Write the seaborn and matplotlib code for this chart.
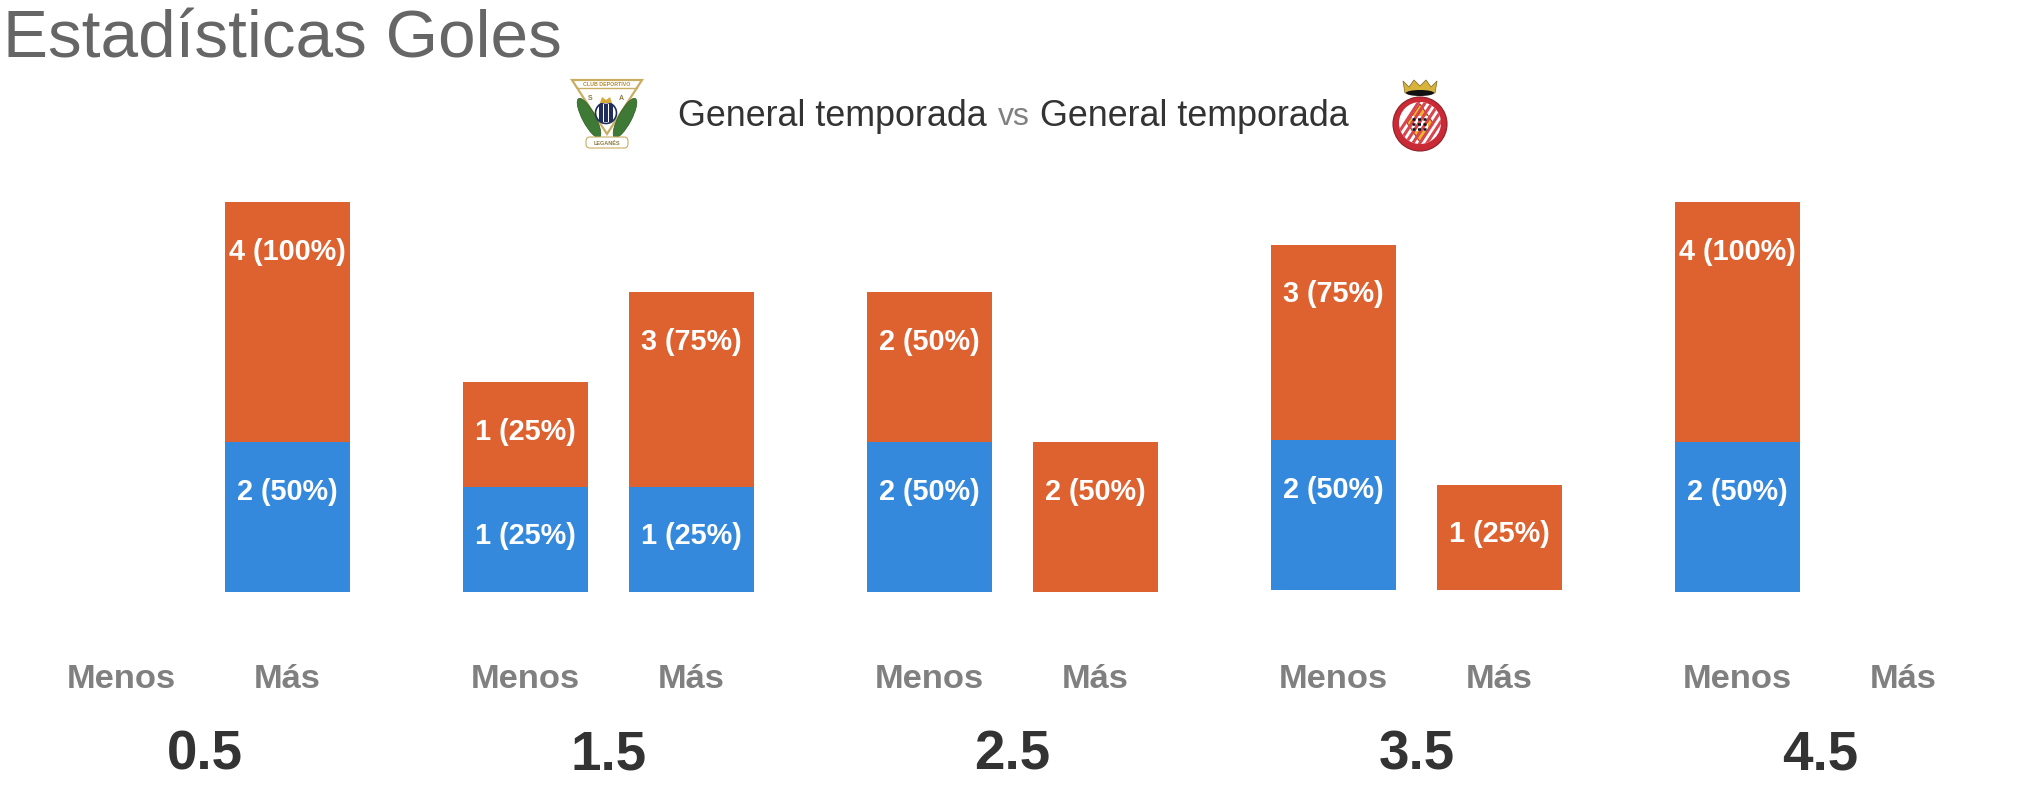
import numpy as np
import pandas as pd
import matplotlib
matplotlib.use("Agg")
import matplotlib.pyplot as plt
import matplotlib.patches as mpatches
import seaborn as sns

# Datos (partidos por linea de goles)
lineas = ["0.5", "1.5", "2.5", "3.5", "4.5"]
lados = ["Menos", "Más"]
local_menos = [0, 1, 2, 2, 2]
local_mas = [2, 1, 0, 0, 0]
visita_menos = [0, 1, 2, 3, 4]
visita_mas = [4, 3, 2, 1, 0]
partidos = 4

titulo = "Estadísticas Goles"
contexto = "General temporada"

AZUL = "#3489DC"
NARANJA = "#DD622F"

# Medidas en pixeles de la figura
ANCHO, ALTO = 2030, 790
PASO_GRUPO = 404
ANCHO_GRUPO = 332
IZQ_GRUPO = 38.5
BASE = 592
ALTO_EJE = 400
PX_POR_GOL = 45
# cada tramo con valor tiene un alto minimo extra, como en el original
EXTRA = 60 / PX_POR_GOL
ELEVACION = [0, 0, 0, 2, 0]
PT = 72 / 100


def alto_tramo(valor):
    return valor + EXTRA if valor > 0 else 0


def dibujar_grupo(ax, linea, azul, naranja, elevar):
    df = pd.DataFrame({"lado": lados, "azul": azul, "naranja": naranja})
    df["alto_azul"] = df["azul"].map(alto_tramo)
    df["alto_total"] = df["alto_azul"] + df["naranja"].map(alto_tramo)
    sns.barplot(data=df, x="lado", y="alto_total", order=lados, color=NARANJA,
                saturation=1, width=0.755, errorbar=None, linewidth=0, ax=ax)
    sns.barplot(data=df, x="lado", y="alto_azul", order=lados, color=AZUL,
                saturation=1, width=0.755, errorbar=None, linewidth=0, ax=ax)
    for i, fila in df.iterrows():
        for valor, tope in ((fila["azul"], fila["alto_azul"]), (fila["naranja"], fila["alto_total"])):
            if valor > 0:
                ax.annotate(f"{valor} ({valor * 100 // partidos}%)", (i, tope),
                            xytext=(0, -49.5 * PT), textcoords="offset points",
                            ha="center", va="center", color="white",
                            fontsize=20.8, fontweight="bold")
    ax.set_xlim(-0.5, 1.5)
    ax.set_ylim(0, ALTO_EJE / PX_POR_GOL)
    ax.set_yticks([])
    ax.set_ylabel("")
    ax.set_xticks([0, 1], lados)
    ax.tick_params(axis="x", length=0, pad=(71.5 + elevar) * PT, labelsize=24.8, labelcolor="#808080")
    for etiqueta in ax.get_xticklabels():
        etiqueta.set_fontweight("bold")
    ax.set_xlabel(linea, fontsize=39.4, fontweight="bold", color="#333333", labelpad=35 * PT)
    sns.despine(ax=ax, left=True, bottom=True)
    ax.patch.set_alpha(0)


def escudo_leganes(ax):
    ax.add_patch(mpatches.Polygon([(572, 80), (642, 80), (607, 134)], closed=True,
                                  fc="white", ec="#C9AE62", lw=1.6))
    ax.plot([577, 637], [88, 88], color="#C9AE62", lw=1)
    ax.text(607, 84.5, "CLUB DEPORTIVO", ha="center", va="center", fontsize=3.8,
            fontweight="bold", color="#B08A30")
    for x, ang in ((589, -28), (625, 28)):
        ax.add_patch(mpatches.Ellipse((x, 118), 13, 44, angle=ang, fc="#3E7A35", ec="#2B5A25", lw=0.5))
    ax.add_patch(mpatches.Circle((606, 113), 10.5, fc="white", ec="#1F2E5A", lw=1.2))
    for x in (601, 606, 611):
        ax.add_patch(mpatches.Rectangle((x - 1.7, 104), 3.4, 18, fc="#1F2E5A", ec="none"))
    ax.add_patch(mpatches.Polygon([(600, 103), (602, 97), (606, 100), (610, 97), (612, 103)],
                                  closed=True, fc="#D7A93A", ec="none"))
    ax.text(590, 99, "S", ha="center", va="center", fontsize=5, fontweight="bold", color="#8A7A40")
    ax.text(621, 99, "A", ha="center", va="center", fontsize=5, fontweight="bold", color="#8A7A40")
    ax.add_patch(mpatches.FancyBboxPatch((587, 138), 40, 9, boxstyle="round,pad=1,rounding_size=4",
                                         fc="white", ec="#C9AE62", lw=0.8))
    ax.text(607, 143, "LEGANÉS", ha="center", va="center", fontsize=4, fontweight="bold", color="#8A7A40")


def escudo_girona(ax):
    ax.add_patch(mpatches.Polygon([(1405, 93), (1403, 81), (1409, 87), (1414, 80), (1420, 86),
                                   (1426, 80), (1431, 87), (1437, 81), (1435, 93)],
                                  closed=True, fc="#D8B33C", ec="#8A7430", lw=0.6))
    ax.add_patch(mpatches.Ellipse((1420, 93), 28, 6, fc="#111111", ec="none"))
    ax.add_patch(mpatches.Circle((1420, 124), 27, fc="#C92A36", ec="#8F1E28", lw=0.8))
    interior = mpatches.Circle((1420, 123), 21, fc="white", ec="none")
    ax.add_patch(interior)
    for x in np.arange(1390, 1450, 7):
        raya, = ax.plot([x, x + 30], [146, 100], color="#D9454F", lw=2.2)
        raya.set_clip_path(interior)
    ax.add_patch(mpatches.Polygon([(1420, 104), (1433, 123), (1420, 142), (1407, 123)],
                                  closed=True, fc="#EDB62E", ec="#B5342F", lw=0.8))
    ax.add_patch(mpatches.Rectangle((1412, 116), 16, 15, fc="white", ec="none"))
    for fila in range(3):
        ax.plot([1412, 1428], [118.5 + fila * 5] * 2, color="#111111", lw=1.8, ls=(0, (1.2, 1)))


def main():
    sns.set_theme(style="white")
    plt.rcParams["font.family"] = ["Liberation Sans", "DejaVu Sans"]

    fig = plt.figure(figsize=(ANCHO / 100, ALTO / 100), dpi=100, facecolor="white")

    for g, linea in enumerate(lineas):
        izq = (IZQ_GRUPO + g * PASO_GRUPO) / ANCHO
        abajo = (ALTO - BASE + ELEVACION[g]) / ALTO
        ax = fig.add_axes([izq, abajo, ANCHO_GRUPO / ANCHO, ALTO_EJE / ALTO])
        dibujar_grupo(ax, linea, [local_menos[g], local_mas[g]],
                      [visita_menos[g], visita_mas[g]], ELEVACION[g])

    fig.text(3 / ANCHO, 1 - 41 / ALTO, titulo, fontsize=48.6, color="#666666", ha="left", va="center")
    fig.text(678 / ANCHO, 1 - 116 / ALTO, contexto, fontsize=25.8, color="#333333", ha="left", va="center")
    fig.text(1014 / ANCHO, 1 - 117 / ALTO, "vs", fontsize=23, color="#808080", ha="center", va="center")
    fig.text(1040 / ANCHO, 1 - 116 / ALTO, contexto, fontsize=25.8, color="#333333", ha="left", va="center")

    # capa en pixeles para los escudos
    capa = fig.add_axes([0, 0, 1, 1], zorder=5)
    capa.set_xlim(0, ANCHO)
    capa.set_ylim(ALTO, 0)
    capa.axis("off")
    escudo_leganes(capa)
    escudo_girona(capa)

    fig.savefig("out.png", dpi=100, facecolor="white")


if __name__ == "__main__":
    main()
